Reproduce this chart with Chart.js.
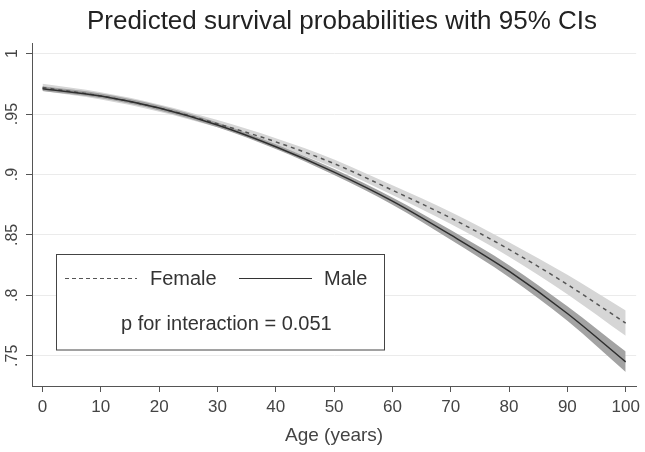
<!DOCTYPE html>
<html>
<head>
<meta charset="utf-8">
<script src="https://cdn.jsdelivr.net/npm/chart.js@4"></script>
<style>
  body { margin: 0; background: #fff; }
  canvas { display: block; }
</style>
</head>
<body>
<canvas id="chart1" width="645" height="452"></canvas>
<script>
// Edades (eje x)
const ages = [0, 10, 20, 30, 40, 50, 60, 70, 80, 90, 100];

// Mujeres: ajuste e IC 95%
const femaleFit = [0.972, 0.965, 0.955, 0.942, 0.927, 0.909, 0.887, 0.864, 0.838, 0.809, 0.777];
const femaleHi  = [0.975, 0.968, 0.958, 0.945, 0.930, 0.9125, 0.891, 0.869, 0.844, 0.817, 0.7875];
const femaleLo  = [0.969, 0.962, 0.952, 0.939, 0.924, 0.9055, 0.883, 0.859, 0.832, 0.801, 0.7665];

// Hombres: ajuste e IC 95%
const maleFit = [0.971, 0.965, 0.955, 0.941, 0.923, 0.902, 0.878, 0.850, 0.820, 0.785, 0.745];
const maleHi  = [0.973, 0.967, 0.957, 0.943, 0.925, 0.9045, 0.881, 0.854, 0.825, 0.791, 0.7535];
const maleLo  = [0.969, 0.963, 0.953, 0.939, 0.921, 0.8995, 0.875, 0.846, 0.815, 0.779, 0.7365];

// Marcas de los ejes
const xTicks = [0, 10, 20, 30, 40, 50, 60, 70, 80, 90, 100];
const yTicks = [0.75, 0.8, 0.85, 0.9, 0.95, 1];

const toPoints = arr => arr.map((v, i) => ({ x: ages[i], y: v }));

const fontFamily = '"Liberation Sans", Arial, sans-serif';
Chart.defaults.font.family = fontFamily;
Chart.defaults.color = '#444';

const baseLine = {
  pointRadius: 0,
  cubicInterpolationMode: 'monotone'
};

// Título y leyenda dibujados a mano (estilo Stata)
const decorPlugin = {
  id: 'decor',
  afterDraw(chart) {
    const ctx = chart.ctx;
    ctx.save();
    ctx.fillStyle = '#222';
    ctx.font = '26px ' + fontFamily;
    ctx.textAlign = 'center';
    ctx.textBaseline = 'alphabetic';
    ctx.fillText('Predicted survival probabilities with 95% CIs', 342, 29);

    // caja de leyenda
    ctx.fillStyle = '#fff';
    ctx.fillRect(56.5, 254.5, 328, 95.5);
    ctx.strokeStyle = '#444';
    ctx.lineWidth = 1;
    ctx.strokeRect(56.5, 254.5, 328, 95.5);

    ctx.strokeStyle = '#555';
    ctx.lineWidth = 1.2;
    ctx.setLineDash([4, 3]);
    ctx.beginPath();
    ctx.moveTo(65, 278.5);
    ctx.lineTo(137, 278.5);
    ctx.stroke();
    ctx.setLineDash([]);
    ctx.strokeStyle = '#333';
    ctx.beginPath();
    ctx.moveTo(239, 278.5);
    ctx.lineTo(312, 278.5);
    ctx.stroke();

    ctx.fillStyle = '#333';
    ctx.font = '20px ' + fontFamily;
    ctx.textAlign = 'left';
    ctx.textBaseline = 'middle';
    ctx.fillText('Female', 150, 279);
    ctx.fillText('Male', 324, 279);
    ctx.fillText('p for interaction = 0.051', 121, 324);
    ctx.restore();
  }
};

const chart1Config = {
  type: 'line',
  data: {
    datasets: [
      { ...baseLine, data: toPoints(maleFit), borderColor: '#2e2e2e', borderWidth: 1.5, fill: false },
      { ...baseLine, data: toPoints(femaleFit), borderColor: '#555', borderWidth: 1.5, borderDash: [4, 4], fill: false },
      { ...baseLine, data: toPoints(maleHi), borderWidth: 0, borderColor: 'rgba(0,0,0,0)', backgroundColor: '#a3a3a3', fill: '+1' },
      { ...baseLine, data: toPoints(maleLo), borderWidth: 0, borderColor: 'rgba(0,0,0,0)', fill: false },
      { ...baseLine, data: toPoints(femaleHi), borderWidth: 0, borderColor: 'rgba(0,0,0,0)', backgroundColor: '#d6d6d6', fill: '+1' },
      { ...baseLine, data: toPoints(femaleLo), borderWidth: 0, borderColor: 'rgba(0,0,0,0)', fill: false }
    ]
  },
  options: {
    responsive: false,
    animation: false,
    layout: { padding: { top: 43, right: 8, left: 0, bottom: 0 } },
    plugins: {
      legend: { display: false },
      title: { display: false },
      tooltip: { enabled: false }
    },
    scales: {
      x: {
        type: 'linear',
        min: -1.8,
        max: 101.8,
        afterBuildTicks: s => { s.ticks = xTicks.map(v => ({ value: v })); },
        afterFit: s => { s.height = 66; },
        grid: { color: 'rgba(0,0,0,0)', tickColor: '#555', tickLength: 6, drawOnChartArea: false },
        border: { color: '#555', width: 1 },
        ticks: { font: { size: 17 }, color: '#444', padding: 5, maxRotation: 0 },
        title: { display: true, text: 'Age (years)', font: { size: 19 }, color: '#444', padding: { top: 2, bottom: 5 } }
      },
      y: {
        min: 0.725,
        max: 1.0088,
        afterBuildTicks: s => { s.ticks = yTicks.map(v => ({ value: v })); },
        afterFit: s => { s.width = 32; },
        grid: { color: '#ebebeb', tickColor: '#555', tickLength: 6 },
        border: { color: '#555', width: 1 },
        ticks: {
          font: { size: 16 },
          color: '#444',
          padding: 2,
          minRotation: 90,
          maxRotation: 90,
          crossAlign: 'center',
          callback: v => v === 1 ? '1' : String(v).replace(/^0/, '')
        }
      }
    }
  },
  plugins: [decorPlugin]
};

function renderCharts() {
  const chart1Canvas = document.getElementById('chart1');
  const chart1 = new Chart(chart1Canvas, chart1Config);
}

renderCharts();
</script>
</body>
</html>
